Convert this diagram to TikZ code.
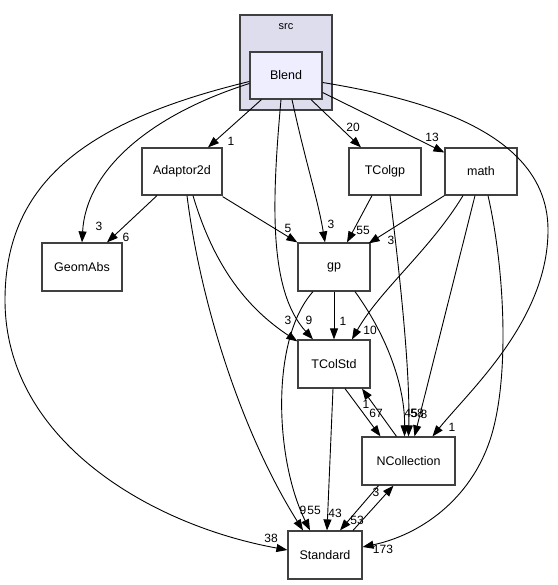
\documentclass[tikz,border=0pt]{standalone}
\usepackage{fontspec}
\setmainfont{Liberation Sans}
\usetikzlibrary{arrows.meta}
\definecolor{clusterfill}{HTML}{DDDDEE}
\definecolor{blendfill}{HTML}{EEEEFF}
\definecolor{boxline}{HTML}{404040}
\tikzset{
  dirbox/.style={draw=boxline, line width=1.2pt, fill=white, minimum height=47pt, inner sep=0pt, font=\fontsize{12.5}{14}\selectfont},
  dep/.style={draw=black, line width=0.9pt, -{Triangle[length=11pt,width=8pt]}},
  lbl/.style={font=\fontsize{12}{13}\selectfont, inner sep=0pt, text=black}
}
\begin{document}
\begin{tikzpicture}[x=1pt,y=-1pt]
\useasboundingbox (0,0) rectangle (557,585);
% cluster
\node[draw=boxline, line width=1.2pt, fill=clusterfill, minimum width=92pt, minimum height=95pt, inner sep=0pt] (src) at (286,62.5) {};
\node[lbl, font=\fontsize{11}{12}\selectfont] (srclbl) at (286,27) {src};
\node[dirbox, fill=blendfill, minimum width=72pt] (Blend) at (286,75.5) {Blend};
\node[dirbox, minimum width=80pt] (Adaptor2d) at (182,171.5) {Adaptor2d};
\node[dirbox, minimum width=72pt] (TColgp) at (385,171.5) {TColgp};
\node[dirbox, minimum width=72pt] (math) at (481,171.5) {math};
\node[dirbox, minimum width=80pt, minimum height=48pt] (GeomAbs) at (82,267) {GeomAbs};
\node[dirbox, minimum width=72pt, minimum height=48pt] (gp) at (334,267) {gp};
\node[dirbox, minimum width=72pt, minimum height=48pt] (TColStd) at (334,364) {TColStd};
\node[dirbox, minimum width=93pt, minimum height=48pt] (NCollection) at (408.5,461) {NCollection};
\node[dirbox, minimum width=74pt, minimum height=48pt] (Standard) at (325,555) {Standard};

% Blend edges
\draw[dep] (Blend.south west)++(12,0) -- ([xshift=26pt]Adaptor2d.north);
\node[lbl] (l1) at (231,141) {1};
\draw[dep] ([xshift=25pt]Blend.south) -- ([xshift=-24pt]TColgp.north);
\node[lbl] (l2) at (353,127) {20};
\draw[dep] ([yshift=-17pt]Blend.east) -- ([yshift=19pt]math.west);
\node[lbl] (l3) at (432,137) {13};
\draw[dep] ([yshift=-8pt]Blend.west) .. controls (150,115) and (86,170) .. (GeomAbs.north);
\node[lbl] (l4) at (99,226) {3};
\draw[dep] ([yshift=-6pt]Blend.west) .. controls (90,120) and (5,180) .. (5,300) .. controls (5,440) and (150,525) .. ([yshift=5pt]Standard.west);
\node[lbl] (l5) at (271,538) {38};
\draw[dep] ([xshift=6pt]Blend.south) .. controls (305,160) and (318,200) .. ([xshift=-9pt]gp.north);
\node[lbl] (l6) at (331,224) {3};
\draw[dep] ([xshift=-5pt]Blend.south) .. controls (272,200) and (268,290) .. ([xshift=-21pt]TColStd.north);
\node[lbl] (l7) at (309,320) {9};
\draw[dep] ([yshift=-7pt]Blend.east) .. controls (430,100) and (548,135) .. (548,230) .. controls (548,320) and (470,390) .. ([xshift=24pt]NCollection.north);
\node[lbl] (l8) at (452,427) {1};

% Adaptor2d edges
\draw[dep] ([xshift=-25pt]Adaptor2d.south) -- ([xshift=25pt]GeomAbs.north);
\node[lbl] (l9) at (126,237) {6};
\draw[dep] ([yshift=-1pt]Adaptor2d.south east) -- (gp.north west);
\node[lbl] (l10) at (288,228) {5};
\draw[dep] ([xshift=11pt]Adaptor2d.south) .. controls (215,270) and (250,310) .. ([yshift=-2pt]TColStd.north west);
\node[lbl] (l11) at (288,320) {3};
\draw[dep] ([xshift=5pt]Adaptor2d.south) .. controls (200,300) and (240,430) .. ([xshift=-22pt]Standard.north);
\node[lbl] (l12) at (303,510) {9};

% TColgp edges
\draw[dep] ([xshift=-13pt]TColgp.south) -- ([xshift=13pt]gp.north);
\node[lbl] (l13) at (363,230) {55};
\draw[dep] ([xshift=5pt]TColgp.south) .. controls (403,300) and (410,380) .. ([xshift=0pt]NCollection.north);

% math edges
\draw[dep] (math.south west) -- ([xshift=-2pt,yshift=-1pt]gp.north east);
\node[lbl] (l14) at (391,240) {3};
\draw[dep] ([xshift=-18pt]math.south) .. controls (430,250) and (380,290) .. ([xshift=18pt]TColStd.north);
\node[lbl] (l15) at (370,330) {10};
\draw[dep] ([xshift=-6pt]math.south) -- ([xshift=6pt]NCollection.north);
\draw[dep] ([xshift=7pt]math.south) .. controls (505,270) and (510,380) .. (490,440) .. controls (470,500) and (420,535) .. ([yshift=8pt]Standard.east);
\node[lbl] (l16) at (383,549) {173};

% gp edges
\draw[dep] (gp.south) -- (TColStd.north);
\node[lbl] (l17) at (343,321) {1};
\draw[dep] ([xshift=-21pt]gp.south) .. controls (270,340) and (275,460) .. ([xshift=-15pt]Standard.north);
\node[lbl] (l18) at (314,510) {55};
\draw[dep] ([xshift=21pt]gp.south) .. controls (390,340) and (405,390) .. ([xshift=-4pt]NCollection.north);
\node[lbl] (l19) at (411,413) {45};
\node[lbl] (l20) at (417,413) {58};
\node[lbl] (l21) at (424,414) {8};

% TColStd edges
\draw[dep] ([xshift=-1pt]TColStd.south) -- ([xshift=2pt]Standard.north);
\node[lbl] (l22) at (335,513) {43};
\draw[dep] ([xshift=11pt]TColStd.south) -- ([xshift=-28pt]NCollection.north);
\node[lbl] (l23) at (376,413) {67};
\draw[dep] ([xshift=-12pt]NCollection.north) -- ([xshift=28pt]TColStd.south);
\node[lbl] (l24) at (366,404) {1};

% NCollection <-> Standard
\draw[dep] ([xshift=-30pt]NCollection.south) -- ([xshift=15pt]Standard.north);
\node[lbl] (l25) at (357,520) {53};
\draw[dep] ([xshift=28pt]Standard.north) -- ([xshift=-15pt]NCollection.south);
\node[lbl] (l26) at (376,492) {3};
\end{tikzpicture}
\end{document}
